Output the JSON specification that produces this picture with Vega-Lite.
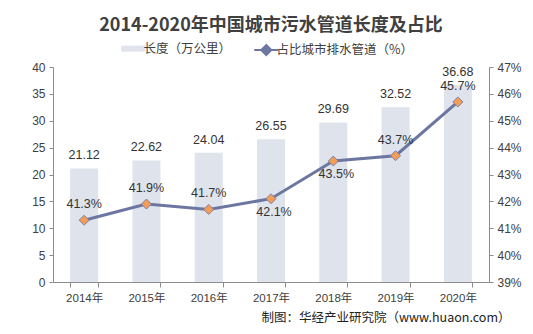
{
  "$schema": "https://vega.github.io/schema/vega-lite/v6.json",
  "autosize": {"type": "none"},
  "width": 436,
  "height": 215,
  "padding": {"left": 53, "top": 67, "right": 44, "bottom": 52},
  "background": "white",
  "title": {
    "text": "2014-2020年中国城市污水管道长度及占比",
    "font": "Noto Sans CJK SC",
    "fontSize": 18,
    "fontWeight": "bold",
    "color": "#404040",
    "anchor": "middle",
    "offset": 7
  },
  "config": {
    "view": {"stroke": null},
    "axis": {
      "grid": false,
      "domainColor": "#8c8c8c",
      "tickColor": "#8c8c8c",
      "labelColor": "#404040",
      "labelFont": "Liberation Sans, Noto Sans CJK SC",
      "labelFontSize": 12
    },
    "legend": {
      "labelFont": "Noto Sans CJK SC",
      "labelFontSize": 12.5,
      "labelColor": "#404040"
    }
  },
  "data": {
    "values": [
      {"year": "2014年", "length": 21.12, "pct": 0.413, "pos": "above"},
      {"year": "2015年", "length": 22.62, "pct": 0.419, "pos": "above"},
      {"year": "2016年", "length": 24.04, "pct": 0.417, "pos": "above"},
      {"year": "2017年", "length": 26.55, "pct": 0.421, "pos": "below"},
      {"year": "2018年", "length": 29.69, "pct": 0.435, "pos": "below"},
      {"year": "2019年", "length": 32.52, "pct": 0.437, "pos": "above"},
      {"year": "2020年", "length": 36.68, "pct": 0.457, "pos": "above"}
    ]
  },
  "encoding": {
    "x": {
      "field": "year",
      "type": "ordinal",
      "sort": null,
      "scale": {"paddingInner": 0.55, "paddingOuter": 0.275},
      "axis": {
        "labelAngle": 0,
        "tickBand": "extent",
        "tickSize": 5,
        "labelPadding": 5,
        "labelFontSize": 11.5,
        "title": "制图：华经产业研究院（www.huaon.com）",
        "titleFont": "Noto Sans CJK SC",
        "titleFontSize": 12.5,
        "titleFontWeight": "normal",
        "titleColor": "#222222",
        "titleAlign": "right",
        "titleAnchor": "end",
        "titleX": 457,
        "titleY": 35,
        "titleBaseline": "middle"
      }
    }
  },
  "layer": [
    {
      "encoding": {
        "y": {
          "field": "length",
          "type": "quantitative",
          "scale": {"domain": [0, 40], "nice": false},
          "axis": {"values": [0, 5, 10, 15, 20, 25, 30, 35, 40], "title": null, "tickSize": 4, "labelPadding": 4}
        }
      },
      "layer": [
        {
          "mark": {"type": "bar"},
          "encoding": {
            "color": {
              "datum": "长度（万公里）",
              "type": "nominal",
              "scale": {"domain": ["长度（万公里）", "占比城市排水管道（%）"], "range": ["#dfe3ec", "#6c77a1"]},
              "legend": {
                "title": null,
                "orient": "none",
                "legendX": 74,
                "legendY": -25,
                "direction": "horizontal",
                "symbolSize": 576,
                "columnPadding": 18,
                "labelOffset": 4,
                "encode": {
                  "symbols": {
                    "update": {
                      "shape": {"signal": "datum.value === '长度（万公里）' ? 'M-1,0H1' : 'M-1,0H1M0,-0.42L0.42,0L0,0.42L-0.42,0Z'"},
                      "stroke": {"signal": "datum.value === '长度（万公里）' ? '#dfe3ec' : '#6c77a1'"},
                      "strokeWidth": {"signal": "datum.value === '长度（万公里）' ? 6 : 2"},
                      "fill": {"signal": "datum.value === '长度（万公里）' ? 'transparent' : '#f59d56'"},
                      "opacity": {"value": 1}
                    }
                  }
                }
              }
            }
          }
        },
        {
          "mark": {"type": "text", "dy": -13, "font": "Liberation Sans", "fontSize": 12.5, "color": "#333333"},
          "encoding": {"text": {"field": "length", "type": "quantitative", "format": ".2f"}}
        }
      ]
    },
    {
      "encoding": {
        "y": {
          "field": "pct",
          "type": "quantitative",
          "scale": {"domain": [0.39, 0.47], "nice": false, "zero": false},
          "axis": {
            "orient": "right",
            "values": [0.39, 0.40, 0.41, 0.42, 0.43, 0.44, 0.45, 0.46, 0.47],
            "format": ".0%",
            "title": null,
            "tickSize": 4,
            "labelPadding": 4
          }
        }
      },
      "layer": [
        {
          "mark": {"type": "line", "strokeWidth": 3},
          "encoding": {"color": {"datum": "占比城市排水管道（%）", "type": "nominal"}}
        },
        {
          "mark": {"type": "point", "shape": "diamond", "filled": true, "fill": "#f59d56", "stroke": "#7a82a8", "strokeWidth": 1, "size": 100, "opacity": 1}
        },
        {
          "transform": [{"filter": "datum.pos === 'above'"}],
          "mark": {"type": "text", "dy": -16, "font": "Liberation Sans", "fontSize": 12.5, "color": "#333333"},
          "encoding": {"text": {"field": "pct", "type": "quantitative", "format": ".1%"}}
        },
        {
          "transform": [{"filter": "datum.pos === 'below'"}],
          "mark": {"type": "text", "dy": 13, "dx": 3, "font": "Liberation Sans", "fontSize": 12.5, "color": "#333333"},
          "encoding": {"text": {"field": "pct", "type": "quantitative", "format": ".1%"}}
        }
      ]
    }
  ],
  "resolve": {"scale": {"y": "independent"}}
}
